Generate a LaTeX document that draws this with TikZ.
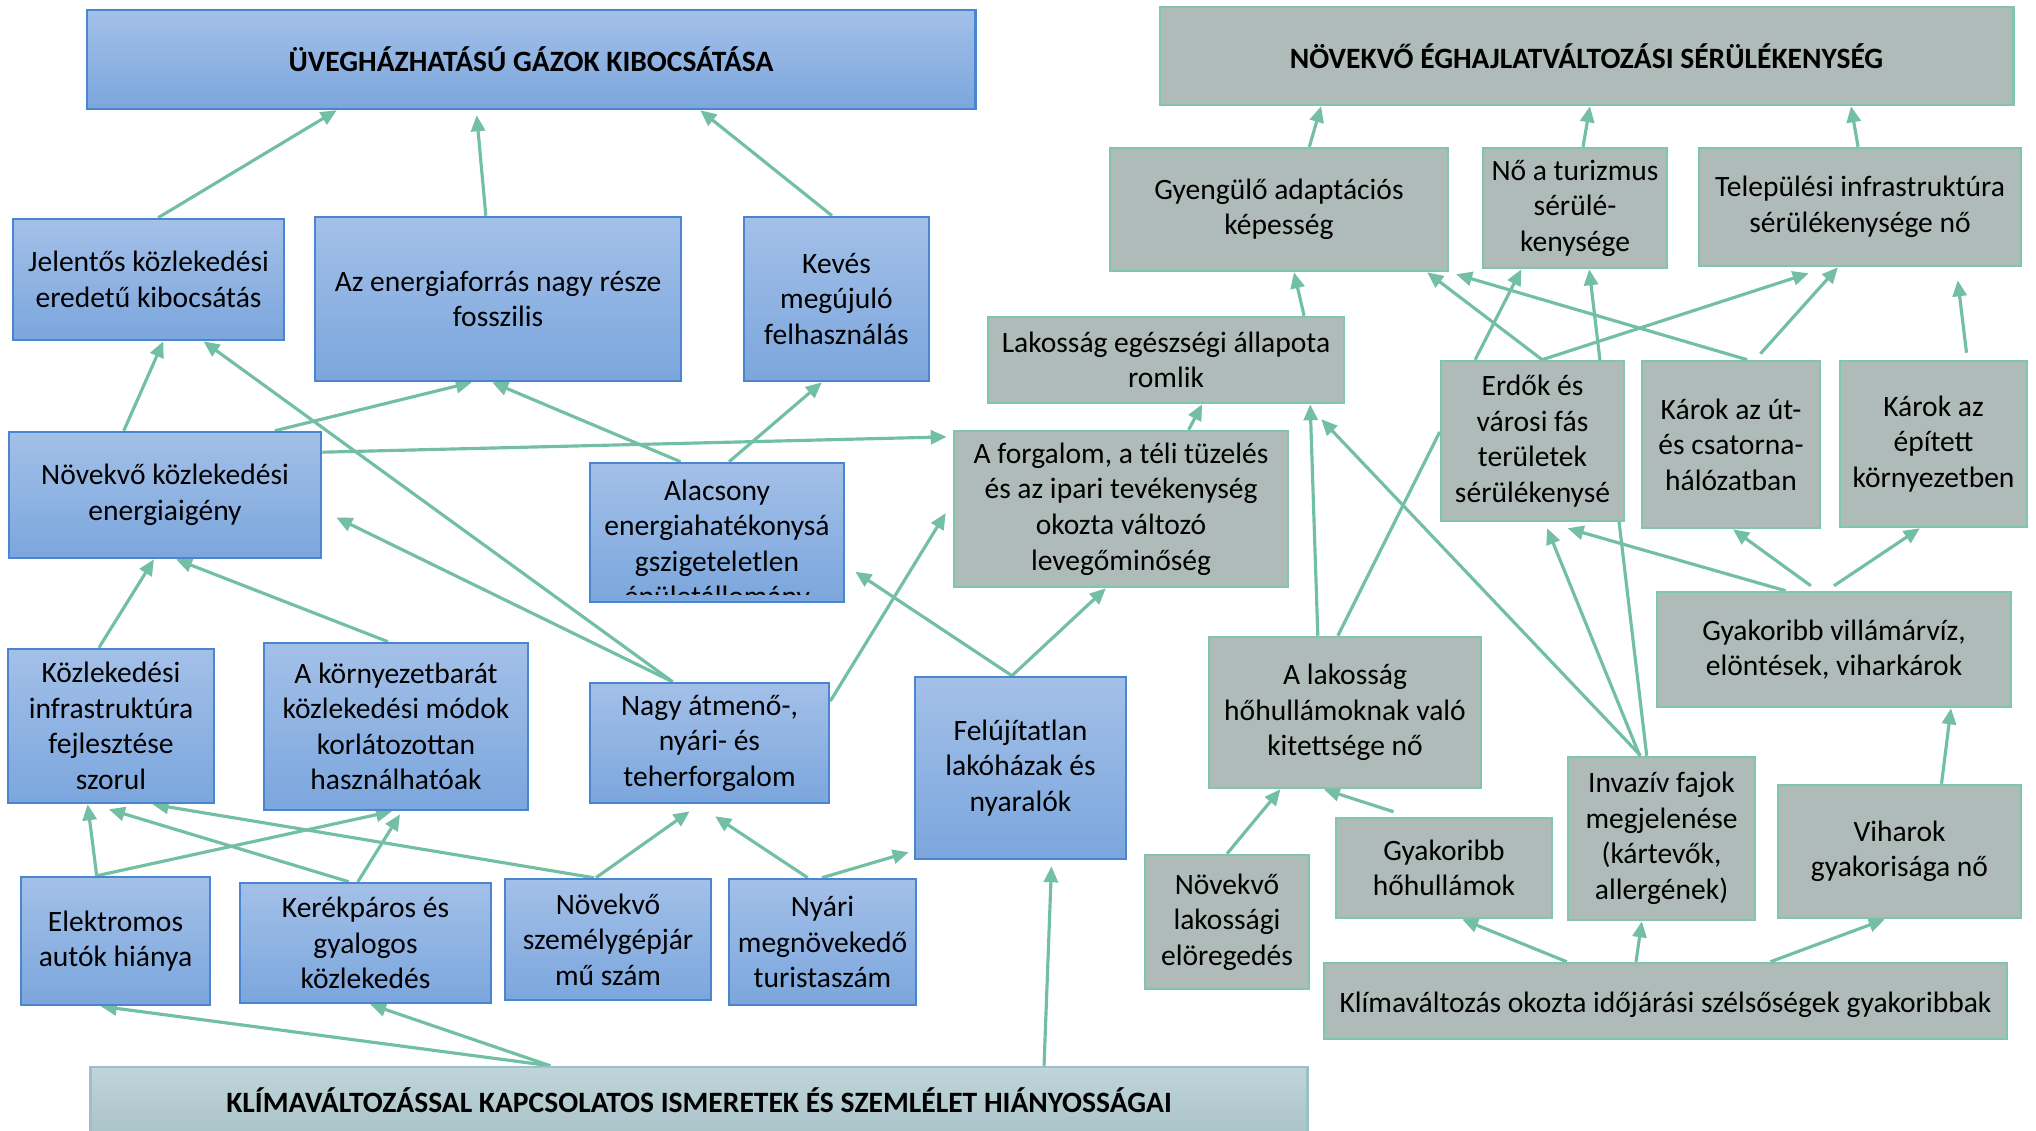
\documentclass[tikz,border=0pt]{standalone}
\usepackage{fontspec}
\setmainfont{Carlito}
\usetikzlibrary{arrows.meta,calc,backgrounds}
\definecolor{blueTop}{HTML}{A3C0E8}
\definecolor{blueBot}{HTML}{7BA6DD}
\definecolor{blueEdge}{HTML}{4A85CF}
\definecolor{grayFill}{HTML}{AEBBB8}
\definecolor{grayEdge}{HTML}{80C6AC}
\definecolor{knowTop}{HTML}{BFD5DA}
\definecolor{knowBot}{HTML}{ABC4C9}
\definecolor{knowEdge}{HTML}{9CC0C8}
\definecolor{linkGreen}{HTML}{72BFA4}

\tikzset{
  box/.style={draw,line width=0.7pt,inner sep=0pt,align=center,
    font=\fontsize{8.4}{10.1}\selectfont},
  lowtext/.style={execute at begin node={\rule{0pt}{8pt}}},
  bluebox/.style={box,lowtext,draw=blueEdge,top color=blueTop,bottom color=blueBot},
  graybox/.style={box,lowtext,draw=grayEdge,fill=grayFill},
  titleblue/.style={box,draw=blueEdge,top color=blueTop,bottom color=blueBot,
    font=\fontsize{8.4}{10.1}\selectfont\bfseries},
  titlegray/.style={box,draw=grayEdge,fill=grayFill,font=\fontsize{8.4}{10.1}\selectfont\bfseries},
  titleknow/.style={box,draw=knowEdge,top color=knowTop,bottom color=knowBot,
    font=\fontsize{8.4}{10.1}\selectfont\bfseries},
  boxtext/.style={inner sep=0pt,align=center,font=\fontsize{8.4}{10.1}\selectfont},
  link/.style={draw=linkGreen,line width=0.9pt,-{Triangle[length=0.16cm,width=0.14cm]}},
  plainlink/.style={draw=linkGreen,line width=0.9pt}
}

\begin{document}
\begin{tikzpicture}[x=0.01cm,y=-0.01cm]
  \path[use as bounding box,clip] (0,0) rectangle (2036,1130);
  % kék oldal
  \node[titleblue,minimum width=8.88cm,minimum height=0.99cm] (ghg) at (531,59.5) {ÜVEGHÁZHATÁSÚ GÁZOK KIBOCSÁTÁSA};
  \node[bluebox,minimum width=2.71cm,minimum height=1.21cm] (jel) at (148.5,279.5) {Jelentős közlekedési\\eredetű kibocsátás};
  \node[bluebox,minimum width=3.66cm,minimum height=1.64cm] (fossz) at (498,299) {Az energiaforrás nagy része\\fosszilis};
  \node[bluebox,minimum width=1.85cm,minimum height=1.64cm] (keves) at (836.5,299) {Kevés\\megújuló\\felhasználás};
  \node[bluebox,minimum width=3.12cm,minimum height=1.26cm] (igeny) at (165,495) {Növekvő közlekedési\\energiaigény};
  \node[bluebox,minimum width=2.54cm,minimum height=1.39cm] (alacs) at (717,532.5) {};
  \begin{scope}
    \clip (alacs.north west) rectangle ($(alacs.south east)+(0,-9)$);
    \node[boxtext] (alacstxt) at ($(alacs.center)+(0,13)$) {Alacsony\\energiahatékonysá\\gszigeteletlen\\épületállomány};
  \end{scope}
  \node[bluebox,minimum width=2.06cm,minimum height=1.54cm] (infra) at (111,726) {Közlekedési\\infrastruktúra\\fejlesztése\\szorul};
  \node[bluebox,minimum width=2.64cm,minimum height=1.67cm] (korny) at (396,726.5) {A környezetbarát\\közlekedési módok\\korlátozottan\\használhatóak};
  \node[bluebox,minimum width=2.39cm,minimum height=1.20cm] (nagy) at (709.5,743) {Nagy átmenő-,\\nyári- és\\teherforgalom};
  \node[bluebox,minimum width=2.11cm,minimum height=1.82cm] (felujit) at (1020.5,768) {Felújítatlan\\lakóházak és\\nyaralók};
  \node[bluebox,minimum width=1.89cm,minimum height=1.28cm] (elektr) at (115.5,941) {Elektromos\\autók hiánya};
  \node[bluebox,minimum width=2.51cm,minimum height=1.20cm] (kerekp) at (365.5,943) {Kerékpáros és\\gyalogos\\közlekedés};
  \node[bluebox,minimum width=2.06cm,minimum height=1.21cm] (szemely) at (608,939.5) {Növekvő\\személygépjár\\mű szám};
  \node[bluebox,minimum width=1.87cm,minimum height=1.26cm] (nyari) at (822.5,942) {Nyári\\megnövekedő\\turistaszám};
  \node[titleknow,minimum width=12.16cm,minimum height=0.66cm] (ismeret) at (699,1100) {KLÍMAVÁLTOZÁSSAL KAPCSOLATOS ISMERETEK ÉS SZEMLÉLET HIÁNYOSSÁGAI};
  % szürke oldal
  \node[titlegray,minimum width=8.53cm,minimum height=0.98cm] (vuln) at (1586.5,56) {NÖVEKVŐ ÉGHAJLATVÁLTOZÁSI SÉRÜLÉKENYSÉG};
  \node[graybox,minimum width=3.38cm,minimum height=1.23cm] (adapt) at (1279,209.5) {Gyengülő adaptációs\\képesség};
  \node[graybox,minimum width=1.84cm,minimum height=1.20cm] (turizm) at (1575,208) {Nő a turizmus\\sérülé-\\kenysége};
  \node[graybox,minimum width=3.22cm,minimum height=1.18cm] (telep) at (1860,207) {Települési infrastruktúra\\sérülékenysége nő};
  \node[graybox,minimum width=3.56cm,minimum height=0.86cm] (egeszs) at (1166,360) {Lakosság egészségi állapota\\romlik};
  \node[graybox,minimum width=3.34cm,minimum height=1.56cm] (levego) at (1121,509) {A forgalom, a téli tüzelés\\és az ipari tevékenység\\okozta változó\\levegőminőség};
  \node[graybox,minimum width=1.83cm,minimum height=1.60cm] (erdo) at (1532.5,441) {Erdők és\\városi fás\\területek\\sérülékenysé};
  \node[graybox,minimum width=1.78cm,minimum height=1.67cm] (karut) at (1731,444.5) {Károk az út-\\és csatorna-\\hálózatban};
  \node[graybox,minimum width=1.87cm,minimum height=1.66cm] (karepit) at (1933.5,444) {Károk az\\épített\\környezetben};
  \node[graybox,minimum width=3.54cm,minimum height=1.15cm] (villam) at (1834,649.5) {Gyakoribb villámárvíz,\\elöntések, viharkárok};
  \node[graybox,minimum width=2.72cm,minimum height=1.51cm] (hohull) at (1345,712.5) {A lakosság\\hőhullámoknak való\\kitettsége nő};
  \node[graybox,minimum width=1.87cm,minimum height=1.63cm] (invaz) at (1661.5,838.5) {Invazív fajok\\megjelenése\\(kártevők,\\allergének)};
  \node[graybox,minimum width=2.43cm,minimum height=1.33cm] (vihar) at (1899.5,851.5) {Viharok\\gyakorisága nő};
  \node[graybox,minimum width=1.64cm,minimum height=1.34cm] (oreg) at (1227,922) {Növekvő\\lakossági\\elöregedés};
  \node[graybox,minimum width=2.16cm,minimum height=1.00cm] (gyakho) at (1444,868) {Gyakoribb\\hőhullámok};
  \node[graybox,minimum width=6.83cm,minimum height=0.76cm] (szels) at (1665.5,1001) {Klímaváltozás okozta időjárási szélsőségek gyakoribbak};

  % nyilak a dobozok alatt
  \begin{pgfonlayer}{background}
    \draw[link] ($(jel.north west)!.535!(jel.north east)$) -- ($(ghg.south west)!.282!(ghg.south east)$);
    \draw[link] ($(fossz.north west)!.467!(fossz.north east)$) -- ($(ghg.south west)!.439!(ghg.south east)+(0,5)$);
    \draw[link] ($(keves.north west)!.476!(keves.north east)$) -- ($(ghg.south west)!.690!(ghg.south east)$);
    \draw[link] ($(igeny.north west)!.369!(igeny.north east)$) -- ($(jel.south west)!.554!(jel.south east)$);
    \draw[link] ($(nagy.north west)!.347!(nagy.north east)$) -- ($(jel.south west)!.701!(jel.south east)$);
    \draw[link] ($(igeny.north west)!.849!(igeny.north east)$) -- ($(fossz.south west)!.429!(fossz.south east)$);
    \draw[link] ($(alacs.north west)!.358!(alacs.north east)$) -- ($(fossz.south west)!.484!(fossz.south east)$);
    \draw[link] ($(alacs.north west)!.547!(alacs.north east)$) -- ($(keves.south west)!.422!(keves.south east)$);
    \draw[link] ($(igeny.north east)!.167!(igeny.south east)$) -- ($(levego.north west)!.045!(levego.south west)+(-6,0)$);
    \draw[link] ($(infra.north west)!.442!(infra.north east)$) -- ($(igeny.south west)!.465!(igeny.south east)$);
    \draw[link] ($(korny.north west)!.470!(korny.north east)$) -- ($(igeny.south west)!.535!(igeny.south east)$);
    \draw[link] ($(nagy.north west)!.347!(nagy.north east)$) -- ($(igeny.north east)!.675!(igeny.south east)+(14,0)$);
    \draw[link] ($(nagy.north east)!.158!(nagy.south east)$) -- ($(levego.north west)!.526!(levego.south west)+(-7,0)$);
    \draw[link] ($(felujit.north west)!.460!(felujit.north east)$) -- ($(alacs.north east)!.777!(alacs.south east)+(10,0)$);
    \draw[link] ($(felujit.north west)!.460!(felujit.north east)$) -- ($(levego.south west)!.455!(levego.south east)$);
    \draw[link] ($(levego.north west)!.701!(levego.north east)$) -- ($(egeszs.south west)!.601!(egeszs.south east)$);
    \draw[link] ($(egeszs.north west)!.885!(egeszs.north east)$) -- ($(adapt.south west)!.544!(adapt.south east)$);
    \draw[link] ($(adapt.north west)!.589!(adapt.north east)$) -- ($(vuln.south west)!.190!(vuln.south east)$);
    \draw[link] ($(turizm.north west)!.543!(turizm.north east)$) -- ($(vuln.south west)!.504!(vuln.south east)$);
    \draw[link] ($(telep.north west)!.494!(telep.north east)$) -- ($(vuln.south west)!.809!(vuln.south east)$);
    \draw[link] ($(erdo.north west)!.552!(erdo.north east)$) -- ($(adapt.south west)!.935!(adapt.south east)$);
    \draw[link] ($(erdo.north west)!.552!(erdo.north east)$) -- ($(telep.south west)!.342!(telep.south east)+(0,6)$);
    \draw[link] ($(erdo.north west)!.191!(erdo.north east)$) -- ($(turizm.south west)!.212!(turizm.south east)$);
    \draw[link] ($(invaz.north west)!.422!(invaz.north east)$) -- ($(turizm.south west)!.576!(turizm.south east)$);
    \draw[link] ($(karut.north west)!.590!(karut.north east)$) -- ($(adapt.south west)!1.02!(adapt.south east)+(0,2)$);
    \draw[link] ($(karut.north west)!.663!(karut.north east)+(0,-6)$) -- ($(telep.south west)!.432!(telep.south east)$);
    \draw[link] ($(karepit.north west)!.674!(karepit.north east)+(0,-7)$) -- ($(telep.south west)!.801!(telep.south east)+(0,13)$);
    \draw[link] ($(villam.north west)!.364!(villam.north east)$) -- ($(erdo.south west)!.689!(erdo.south east)+(0,6)$);
    \draw[link] ($(villam.north west)!.435!(villam.north east)+(0,-5)$) -- ($(karut.south west)!.511!(karut.south east)$);
    \draw[link] ($(villam.north west)!.500!(villam.north east)+(0,-5)$) -- ($(karepit.south west)!.428!(karepit.south east)$);
    \draw[link] ($(vihar.north west)!.671!(vihar.north east)$) -- ($(villam.south west)!.828!(villam.south east)$);
    \draw[link] ($(invaz.north west)!.385!(invaz.north east)$) -- ($(erdo.south west)!.579!(erdo.south east)+(0,6)$);
    \draw[link] ($(invaz.north west)!.390!(invaz.north east)$) -- ($(egeszs.south west)!.933!(egeszs.south east)+(0,15)$);
    \draw[link] ($(hohull.north west)!.401!(hohull.north east)$) -- ($(egeszs.south west)!.902!(egeszs.south east)$);
    \draw[plainlink] ($(hohull.north west)!.474!(hohull.north east)$) -- ($(erdo.north west)!.444!(erdo.south west)$);
    \draw[link] ($(oreg.north west)!.5!(oreg.north east)$) -- ($(hohull.south west)!.265!(hohull.south east)$);
    \draw[link] ($(gyakho.north west)!.269!(gyakho.north east)+(0,-5)$) -- ($(hohull.south west)!.423!(hohull.south east)$);
    \draw[link] ($(szels.north west)!.356!(szels.north east)$) -- ($(gyakho.south west)!.583!(gyakho.south east)$);
    \draw[link] ($(szels.north west)!.457!(szels.north east)$) -- ($(invaz.south west)!.396!(invaz.south east)$);
    \draw[link] ($(szels.north west)!.653!(szels.north east)$) -- ($(vihar.south west)!.440!(vihar.south east)$);
    \draw[link] ($(ismeret.north west)!.783!(ismeret.north east)$) -- ($(felujit.south west)!.645!(felujit.south east)+(0,6)$);
    \draw[link] ($(ismeret.north west)!.378!(ismeret.north east)$) -- ($(elektr.south west)!.423!(elektr.south east)$);
    \draw[link] ($(ismeret.north west)!.378!(ismeret.north east)$) -- ($(kerekp.south west)!.518!(kerekp.south east)$);
    \draw[link] ($(elektr.north west)!.402!(elektr.north east)$) -- ($(infra.south west)!.388!(infra.south east)$);
    \draw[link] ($(elektr.north west)!.402!(elektr.north east)$) -- ($(korny.south west)!.485!(korny.south east)$);
    \draw[link] ($(kerekp.north west)!.434!(kerekp.north east)$) -- ($(infra.south west)!.490!(infra.south east)+(0,5)$);
    \draw[link] ($(kerekp.north west)!.470!(kerekp.north east)$) -- ($(korny.south west)!.515!(korny.south east)+(0,3)$);
    \draw[link] ($(szemely.north west)!.432!(szemely.north east)$) -- ($(infra.south west)!.699!(infra.south east)$);
    \draw[link] ($(szemely.north west)!.442!(szemely.north east)$) -- ($(nagy.south west)!.418!(nagy.south east)+(0,7)$);
    \draw[link] ($(nyari.north west)!.422!(nyari.north east)$) -- ($(nagy.south west)!.523!(nagy.south east)+(0,12)$);
    \draw[link] ($(nyari.north west)!.497!(nyari.north east)$) -- ($(felujit.north west)!.956!(felujit.south west)+(-5,0)$);
  \end{pgfonlayer}
\end{tikzpicture}
\end{document}
